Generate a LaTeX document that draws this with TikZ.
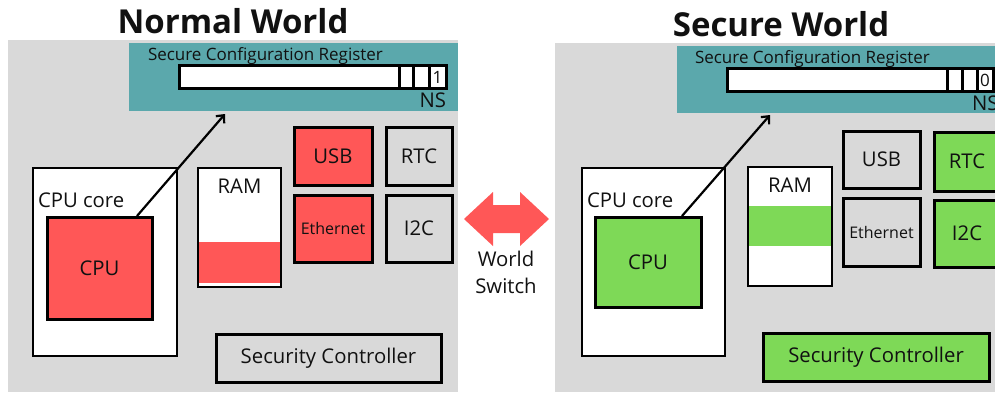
\documentclass[tikz,border=0pt]{standalone}
\usepackage{fontspec}
\setmainfont{Open Sans}
\usetikzlibrary{arrows.meta,calc}

\definecolor{bggray}{HTML}{D9D9D9}
\definecolor{hotred}{HTML}{FF5757}
\definecolor{leaf}{HTML}{7ED957}
\definecolor{teal}{HTML}{5BA8AC}
\definecolor{ink}{HTML}{111111}

\newcommand\lblfont{\fontsize{20.3}{23}\selectfont}
\newcommand\smallfont{\fontsize{16}{19}\selectfont}
\newcommand\regfont{\fontsize{17}{20}\selectfont}
\newcommand\titlefont{\fontsize{33}{38}\selectfont\bfseries}

\tikzset{
  box/.style 2 args={minimum width=#1pt, minimum height=#2pt, anchor=north west, inner sep=0pt, outer sep=0pt},
  hw/.style={draw=black, line width=3pt, text=ink, font=\lblfont},
  thin/.style={draw=black, line width=2.5pt, text=ink, font=\lblfont},
  panel/.style={fill=bggray, draw=none},
  reg/.style={fill=teal, draw=none},
  txt/.style={text=ink, inner sep=0pt, outer sep=0pt},
  link/.style={draw=black, line width=2.2pt, -{Straight Barb[length=6pt,width=11pt,line width=2.2pt]}},
}

\begin{document}
\begin{tikzpicture}[x=1pt,y=-1pt]
\useasboundingbox (0,0) rectangle (995,392);

% ---------------- Normal world ----------------
\node[txt, font=\titlefont, anchor=base] (titleL) at (233,33) {Normal World};
\node[panel, box={450}{352}] (panelL) at (8,40) {};
\node[reg, box={329}{68}] (regL) at (129,43) {};
\node[txt, font=\regfont, anchor=base west] (regnameL) at (148,60) {Secure Configuration Register};
\node[draw=black, fill=white, line width=3pt, box={267}{23}] (barL) at (179,65) {};
\foreach \cx in {399,413,429}
  \draw[line width=3pt] (\cx,65) -- (\cx,88);
\node[txt, font=\regfont] (bitL) at (437.5,77) {1};
\node[txt, font=\lblfont, anchor=base east] (nsL) at (446,107) {NS};

\node[thin, fill=white, box={144}{188}] (coreL) at (33,168) {};
\node[txt, font=\lblfont, anchor=base west] (corenameL) at (38,207) {CPU core};
\node[hw, fill=hotred, box={105}{102}] (cpuL) at (47,217) {CPU};

\node[thin, fill=white, box={83}{119}] (ramL) at (198,168) {};
\fill[hotred] (199.3,242) rectangle (279.7,283);
\node[txt, font=\lblfont, anchor=base] (ramnameL) at (239.5,193) {RAM};

\node[hw, fill=hotred, box={78}{58}] (usbL) at (294,127) {USB};
\node[hw, fill=bggray, box={66}{58}] (rtcL) at (386,127) {RTC};
\node[hw, fill=hotred, box={78}{67}, font=\smallfont] (ethL) at (294,195) {Ethernet};
\node[hw, fill=bggray, box={66}{67}] (i2cL) at (386,195) {I2C};
\node[hw, fill=bggray, box={225}{48}] (secL) at (216,334) {Security Controller};

\draw[link] ([xshift=37.5pt,yshift=1pt]cpuL.north) -- ([xshift=-68.5pt,yshift=-3pt]regL.south);

% ---------------- World switch ----------------
\fill[hotred] (464,219) -- (493,192) -- (493,205) -- (520,205) -- (520,192)
  -- (549,219) -- (520,246) -- (520,233) -- (493,233) -- (493,246) -- cycle;
\node[txt, font=\lblfont, anchor=base] (switchname1) at (506,266) {World};
\node[txt, font=\lblfont, anchor=base] (switchname2) at (506,293) {Switch};

% ---------------- Secure world ----------------
\node[txt, font=\titlefont, anchor=base] (titleR) at (781,36) {Secure World};
\node[panel, box={440}{349}] (panelR) at (555,43) {};
\node[reg, box={318}{67}] (regR) at (677,46) {};
\node[txt, font=\regfont, anchor=base west] (regnameR) at (695,63) {Secure Configuration Register};
\node[draw=black, fill=white, line width=3pt, box={266}{23}] (barR) at (727,68) {};
\foreach \cx in {947,962,977}
  \draw[line width=3pt] (\cx,68) -- (\cx,91);
\node[txt, font=\regfont] (bitR) at (985,80) {0};
\node[txt, font=\lblfont, anchor=base west] (nsR) at (972,110) {NS};

\node[thin, fill=white, box={143}{188}] (coreR) at (582,168) {};
\node[txt, font=\lblfont, anchor=base west] (corenameR) at (587,207) {CPU core};
\node[hw, fill=leaf, box={106}{90}] (cpuR) at (595,217) {CPU};

\node[thin, fill=white, box={84}{119}] (ramR) at (748,167) {};
\fill[leaf] (749.3,206) rectangle (830.7,246);
\node[txt, font=\lblfont, anchor=base] (ramnameR) at (790,192) {RAM};

\node[hw, fill=bggray, box={77}{57}] (usbR) at (843,131) {USB};
\node[hw, fill=leaf, box={66}{59}] (rtcR) at (934,132) {RTC};
\node[hw, fill=bggray, box={77}{68}, font=\smallfont] (ethR) at (843,198) {Ethernet};
\node[hw, fill=leaf, box={66}{67}] (i2cR) at (934,200) {I2C};
\node[hw, fill=leaf, box={226}{48}] (secR) at (763,333) {Security Controller};

\draw[link] ([xshift=34pt,yshift=1pt]cpuR.north) -- ([xshift=-66pt,yshift=-2pt]regR.south);
\end{tikzpicture}
\end{document}
